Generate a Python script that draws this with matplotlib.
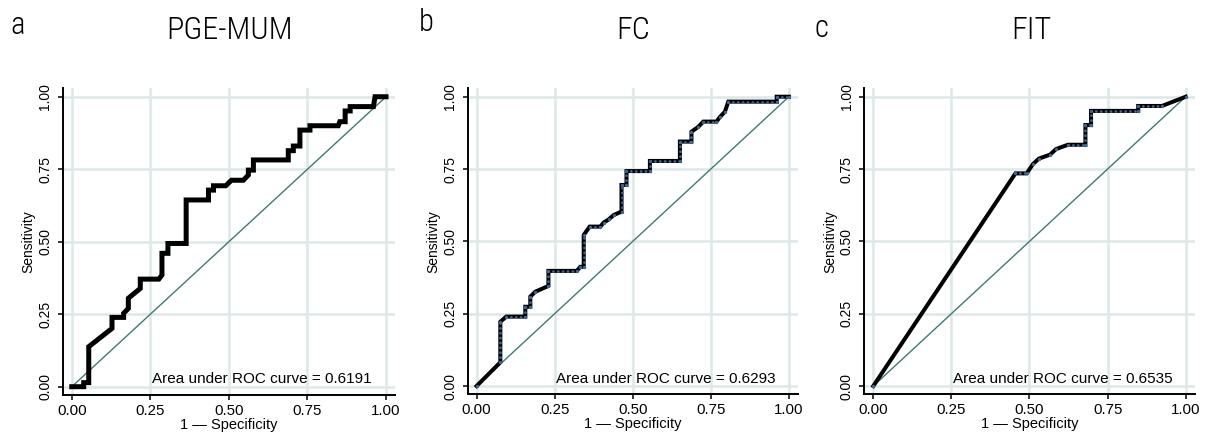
import matplotlib

matplotlib.use("Agg")
import matplotlib.pyplot as plt

plt.rcParams["font.family"] = ["Liberation Sans", "DejaVu Sans"]
plt.rcParams["lines.scale_dashes"] = False

# ROC vertices (1 - specificity, sensitivity)
pge_fpr = [0, 0.038, 0.038, 0.054, 0.054, 0.128, 0.128, 0.165, 0.165, 0.18, 0.18,
           0.218, 0.218, 0.277, 0.287, 0.287, 0.306, 0.306, 0.364, 0.364, 0.435,
           0.435, 0.451, 0.451, 0.49, 0.508, 0.546, 0.562, 0.562, 0.578, 0.578,
           0.689, 0.689, 0.705, 0.705, 0.726, 0.726, 0.758, 0.758, 0.848, 0.853,
           0.87, 0.87, 0.886, 0.886, 0.96, 0.965, 1.0]
pge_tpr = [0, 0, 0.014, 0.014, 0.138, 0.201, 0.239, 0.239, 0.253, 0.27, 0.305,
           0.339, 0.371, 0.371, 0.385, 0.46, 0.46, 0.494, 0.494, 0.644, 0.644,
           0.678, 0.678, 0.693, 0.693, 0.712, 0.712, 0.73, 0.747, 0.747, 0.782,
           0.782, 0.814, 0.814, 0.83, 0.83, 0.885, 0.885, 0.9, 0.9, 0.914,
           0.914, 0.951, 0.951, 0.966, 0.966, 1.0, 1.0]

fc_fpr = [0, 0.076, 0.076, 0.095, 0.156, 0.156, 0.172, 0.172, 0.188, 0.23, 0.23,
          0.321, 0.332, 0.343, 0.343, 0.362, 0.396, 0.407, 0.423, 0.439, 0.464,
          0.464, 0.48, 0.48, 0.555, 0.555, 0.651, 0.651, 0.688, 0.688, 0.71,
          0.726, 0.768, 0.78, 0.795, 0.806, 0.961, 0.961, 1.0]
fc_tpr = [0, 0.082, 0.222, 0.24, 0.24, 0.274, 0.274, 0.309, 0.326, 0.346, 0.398,
          0.398, 0.412, 0.412, 0.522, 0.551, 0.551, 0.565, 0.576, 0.591, 0.603,
          0.695, 0.695, 0.743, 0.743, 0.778, 0.778, 0.845, 0.845, 0.879, 0.896,
          0.914, 0.914, 0.931, 0.948, 0.983, 0.983, 1.0, 1.0]

fit_fpr = [0, 0.455, 0.491, 0.511, 0.53, 0.566, 0.585, 0.623, 0.679, 0.679,
           0.697, 0.697, 0.848, 0.848, 0.924, 1.0]
fit_tpr = [0, 0.735, 0.735, 0.767, 0.786, 0.8, 0.819, 0.834, 0.834, 0.902,
           0.902, 0.951, 0.951, 0.968, 0.968, 1.0]

panel_letters = ["a", "b", "c"]
titles = ["PGE-MUM", "FC", "FIT"]
auc_values = [0.6191, 0.6293, 0.6535]
ticks = [0, 0.25, 0.5, 0.75, 1.0]

GRID = "#dfe8e8"
REF = "#3f7a71"
DOT = "#3f6690"

fig = plt.figure(figsize=(12.05, 4.33), dpi=100)
rects = [(0.0520, 0.0875, 0.2759, 0.7085),
         (0.3880, 0.0891, 0.2742, 0.7069),
         (0.7172, 0.0891, 0.2743, 0.7069)]
curves = [(pge_fpr, pge_tpr, False), (fc_fpr, fc_tpr, True), (fit_fpr, fit_tpr, True)]

for i, (rect, (fx, ty, dotted)) in enumerate(zip(rects, curves)):
    ax = fig.add_axes(rect)
    ax.set_xlim(-0.029, 1.029)
    ax.set_ylim(-0.029, 1.029)
    ax.set_xticks(ticks)
    ax.set_yticks(ticks)
    ax.set_xticklabels([f"{t:.2f}" for t in ticks], fontsize=10.8)
    ax.set_yticklabels([f"{t:.2f}" for t in ticks], fontsize=10, rotation=90, va="center")
    ax.grid(color=GRID, lw=1.9)
    ax.set_axisbelow(True)
    for s in ("top", "right"):
        ax.spines[s].set_visible(False)
    for s in ("left", "bottom"):
        ax.spines[s].set_linewidth(1.4)
    ax.tick_params(axis="both", length=3.5, width=1.1, color="black")
    ax.tick_params(axis="x", pad=3)
    ax.tick_params(axis="y", pad=4)

    # chance line
    ax.plot([0, 1], [0, 1], color=REF, lw=1.0, zorder=2)

    # ROC curve
    ax.plot(fx, ty, color="black", lw=3.6 if not dotted else 2.9,
            solid_joinstyle="miter", zorder=3)
    if dotted:
        # dotted markers along the horizontal / vertical steps
        for x0, x1, y0, y1 in zip(fx[:-1], fx[1:], ty[:-1], ty[1:]):
            if x0 == x1 or y0 == y1:
                ax.plot([x0, x1], [y0, y1], color=DOT, lw=2.1,
                        ls=(0, (0.01, 3.5)), dash_capstyle="round", zorder=4)
        ax.plot(fx, ty, "o", color=DOT, ms=2.4, mew=0, zorder=5)

    ax.text(0.254, 0.012, f"Area under ROC curve = {auc_values[i]:.4f}",
            fontsize=11, va="baseline", ha="left")
    ax.set_xlabel("1 \u2014 Specificity", fontsize=10.5, labelpad=0)
    ax.set_ylabel("Sensitivity", fontsize=10, labelpad=2)

title_font = ["Roboto Condensed", "PT Sans Narrow", "Archivo Narrow",
              "Liberation Sans", "DejaVu Sans"]
letter_pos = [(10, 34), (419, 31), (815, 37)]
title_x = [230, 633, 1031]
for (lx, ly), tx, letter, title in zip(letter_pos, title_x, panel_letters, titles):
    fig.text(lx / 1205, 1 - ly / 433, letter, fontsize=22, family=title_font,
             weight="light", ha="left", va="baseline")
    fig.text(tx / 1205, 1 - 39 / 433, title, fontsize=23, family=title_font,
             weight="light", ha="center", va="baseline")

fig.savefig("out.png", dpi=100)
